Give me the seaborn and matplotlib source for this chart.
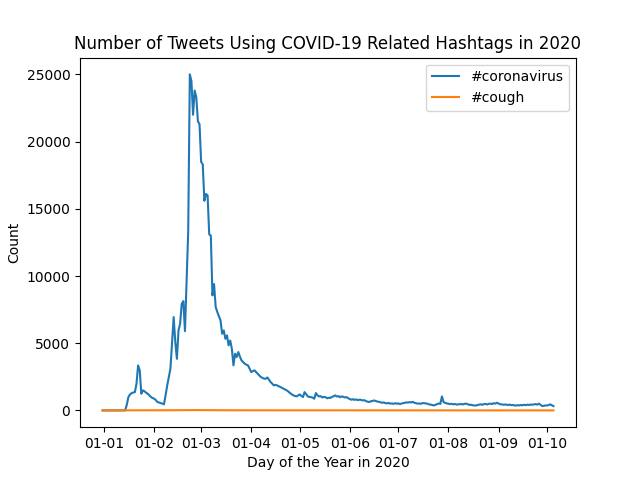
import matplotlib
matplotlib.use("Agg")
import matplotlib.pyplot as plt
import matplotlib.dates as mdates
import pandas as pd
import seaborn as sns

# daily tweet counts, 2019-12-31 .. 2020-10-05
start_date = "2019-12-31"

coronavirus = [
    0,
    0, 0, 0, 0, 0, 0, 0, 0, 0, 0,
    0, 0, 0, 0, 420, 990, 1180, 1290, 1330, 1360,
    1980, 3350, 2980, 1240, 1490, 1420, 1310, 1240, 1110, 990,
    920, 870, 760, 620, 590, 540, 510, 450, 1120, 1850,
    2480, 3100, 5000, 6940, 5100, 3840, 5950, 6450, 7940, 8130,
    5900, 9670, 13300, 25000, 24500, 22000, 23800, 23300, 21500, 21300,
    18500, 18300, 15600, 16100, 16000, 13100, 13000, 8560, 9400, 7690,
    7320, 7000, 6700, 5700, 5950, 5330, 5580, 4840, 5200, 4590,
    3350, 4220, 3970, 4340, 4000, 3720, 3600, 3470, 3400, 3350,
    3100, 2850, 2920, 2980, 2850, 2730, 2600, 2480, 2420, 2360,
    2360, 2450, 2280, 2110, 1980, 1860, 1900, 1860, 1800, 1740,
    1680, 1610, 1550, 1490, 1400, 1290, 1200, 1120, 1080, 1040,
    1110, 1190, 1080, 990, 1360, 1200, 1040, 1000, 990, 950,
    870, 1290, 1120, 1040, 1060, 960, 1010, 980, 900, 940,
    930, 1010, 1050, 1120, 1030, 1060, 980, 1040, 1010, 960,
    990, 900, 850, 790, 840, 780, 820, 760, 800, 780,
    740, 760, 690, 650, 620, 680, 700, 740, 700, 660,
    640, 600, 570, 590, 540, 520, 560, 500, 520, 490,
    530, 500, 520, 470, 510, 540, 560, 600, 580, 620,
    590, 640, 560, 540, 500, 520, 490, 540, 545, 510,
    500, 450, 430, 400, 370, 420, 460, 520, 480, 1040,
    620, 560, 520, 500, 470, 490, 450, 480, 430, 460,
    450, 480, 440, 490, 500, 460, 410, 420, 380, 370,
    360, 400, 430, 450, 420, 470, 480, 440, 490, 500,
    470, 540, 500, 570, 510, 460, 450, 420, 440, 420,
    410, 430, 390, 400, 370, 360, 390, 370, 400, 380,
    420, 390, 430, 400, 440, 420, 450, 470, 430, 500,
    420, 320, 340, 370, 360, 400, 450, 380, 320,
]

cough = [
    3,
    2, 3, 2, 3, 4, 3, 2, 3, 3, 3,
    4, 3, 3, 3, 4, 5, 4, 5, 6, 6,
    7, 8, 8, 7, 6, 7, 6, 6, 7, 8,
    8, 7, 7, 8, 8, 9, 10, 10, 11, 12,
    13, 14, 15, 17, 16, 15, 16, 17, 18, 19,
    18, 20, 22, 26, 25, 23, 24, 23, 22, 21,
    20, 19, 18, 19, 18, 17, 16, 15, 15, 14,
    14, 13, 12, 12, 12, 11, 11, 10, 11, 10,
    9, 10, 9, 10, 9, 8, 8, 8, 8, 7,
    7, 7, 7, 7, 7, 7, 6, 6, 6, 6,
    6, 6, 6, 5, 5, 5, 5, 5, 5, 5,
    5, 5, 4, 4, 4, 4, 4, 4, 4, 4,
    4, 4, 4, 3, 4, 4, 3, 3, 3, 3,
    3, 4, 3, 3, 3, 3, 3, 3, 3, 3,
    3, 3, 3, 3, 3, 3, 3, 3, 3, 3,
    3, 3, 3, 2, 3, 2, 3, 2, 2, 2,
    2, 2, 2, 2, 2, 2, 2, 2, 2, 2,
    2, 2, 2, 2, 2, 2, 2, 2, 2, 2,
    2, 2, 2, 2, 2, 2, 2, 2, 2, 2,
    2, 2, 2, 2, 2, 2, 2, 2, 2, 2,
    2, 2, 1, 1, 1, 1, 2, 2, 2, 3,
    2, 2, 2, 2, 2, 2, 1, 2, 1, 2,
    1, 2, 1, 2, 2, 1, 1, 1, 1, 1,
    1, 1, 1, 2, 1, 2, 2, 1, 2, 2,
    2, 2, 2, 2, 2, 2, 1, 1, 1, 1,
    1, 1, 1, 1, 1, 1, 1, 1, 1, 1,
    1, 1, 1, 1, 2, 1, 2, 2, 1, 2,
    1, 1, 1, 1, 1, 1, 2, 1, 1,
]

dates = pd.date_range(start_date, periods=len(coronavirus), freq="D")

fig, ax = plt.subplots(figsize=(6.4, 4.8), dpi=100)

sns.lineplot(x=dates, y=coronavirus, label="#coronavirus", ax=ax)
sns.lineplot(x=dates, y=cough, label="#cough", ax=ax)

ax.xaxis.set_major_locator(mdates.MonthLocator())
ax.xaxis.set_major_formatter(mdates.DateFormatter("%d-%m"))

ax.set_title("Number of Tweets Using COVID-19 Related Hashtags in 2020")
ax.set_xlabel("Day of the Year in 2020")
ax.set_ylabel("Count")
ax.legend(loc="upper right")

plt.savefig("out.png")
